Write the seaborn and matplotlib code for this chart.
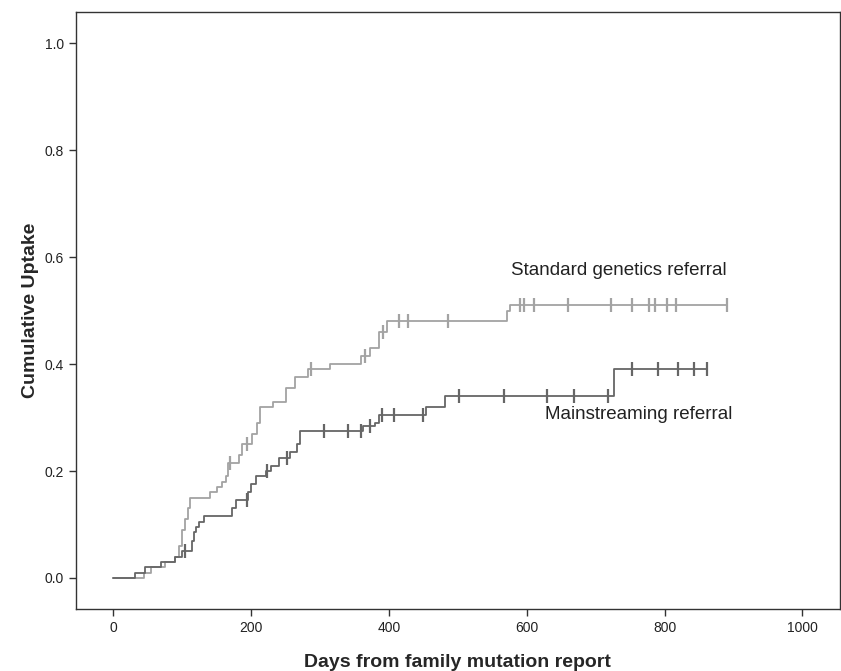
import numpy as np
import pandas as pd
import matplotlib
matplotlib.use("Agg")
import matplotlib.pyplot as plt
import seaborn as sns

# ---- data ----
std_times = [0, 45, 55, 75, 89, 95, 100, 104, 108, 112, 141, 150, 158, 163, 166,
             182, 187, 201, 208, 213, 232, 250, 264, 283, 314, 360, 372, 386, 397, 571, 576]
std_uptake = [0, 0.01, 0.02, 0.03, 0.04, 0.06, 0.09, 0.11, 0.13, 0.15, 0.16, 0.17, 0.18, 0.19, 0.215,
              0.23, 0.25, 0.27, 0.29, 0.32, 0.33, 0.355, 0.375, 0.39, 0.40, 0.415, 0.43, 0.46, 0.48, 0.50, 0.51]
std_censored = [169, 194, 287, 365, 392, 415, 427, 485, 590, 596, 610, 660, 722, 753,
                778, 786, 804, 817, 890]
std_end = 890

ms_times = [0, 32, 46, 69, 89, 100, 114, 117, 120, 124, 131, 172, 178, 196, 200, 207,
            221, 229, 240, 256, 266, 271, 363, 380, 386, 454, 481, 726]
ms_uptake = [0, 0.01, 0.02, 0.03, 0.04, 0.05, 0.07, 0.085, 0.095, 0.105, 0.115, 0.13, 0.145, 0.16, 0.175, 0.19,
             0.20, 0.21, 0.225, 0.235, 0.25, 0.275, 0.285, 0.29, 0.305, 0.32, 0.34, 0.39]
ms_censored = [104, 194, 223, 252, 306, 341, 359, 372, 390, 407, 449, 502, 567, 629,
               668, 718, 752, 791, 820, 843, 861]
ms_end = 861

groups = ["Standard genetics referral", "Mainstreaming referral"]
colors = {"Standard genetics referral": "#a3a3a3", "Mainstreaming referral": "#666666"}


def build(name, times, ups, end):
    t = list(times) + [end]
    u = list(ups) + [ups[-1]]
    return pd.DataFrame({"time": t, "uptake": u, "group": name})


def censor_df(name, times, ups, cens):
    times = np.asarray(times)
    ups = np.asarray(ups)
    idx = np.searchsorted(times, cens, side="right") - 1
    return pd.DataFrame({"time": cens, "uptake": ups[idx], "group": name})


lines = pd.concat([build(groups[0], std_times, std_uptake, std_end),
                   build(groups[1], ms_times, ms_uptake, ms_end)], ignore_index=True)
cens = pd.concat([censor_df(groups[0], std_times, std_uptake, std_censored),
                  censor_df(groups[1], ms_times, ms_uptake, ms_censored)], ignore_index=True)

sns.set_style("white")
plt.rcParams["font.family"] = ["Liberation Sans Narrow", "Liberation Sans", "DejaVu Sans"]

fig = plt.figure(figsize=(8.41, 6.71), dpi=100)
ax = fig.add_axes([0.0904, 0.0925, 0.908, 0.889])

for g in groups:
    sub = lines[lines["group"] == g]
    sns.lineplot(data=sub, x="time", y="uptake", color=colors[g], lw=1.3,
                 drawstyle="steps-post", estimator=None, sort=False, ax=ax, legend=False)
    sc = cens[cens["group"] == g]
    sns.scatterplot(data=sc, x="time", y="uptake", marker="|", s=90, linewidth=1.6,
                    color=colors[g], ax=ax, legend=False)

ax.set_xlim(-54, 1054)
ax.set_ylim(-0.058, 1.058)
ax.set_xticks([0, 200, 400, 600, 800, 1000])
ax.set_yticks([0.0, 0.2, 0.4, 0.6, 0.8, 1.0])
ax.set_yticklabels(["0.0", "0.2", "0.4", "0.6", "0.8", "1.0"])
ax.tick_params(axis="both", direction="out", length=5, width=1, color="#333333",
               labelsize=10, labelcolor="#222222", bottom=True, left=True)
for s in ax.spines.values():
    s.set_visible(True)
    s.set_color("#333333")
    s.set_linewidth(1.0)

ax.set_xlabel("Days from family mutation report", fontsize=14, fontweight="bold",
              family=["Liberation Sans", "DejaVu Sans"], labelpad=14)
ax.set_ylabel("Cumulative Uptake", fontsize=14, fontweight="bold",
              family=["Liberation Sans", "DejaVu Sans"], labelpad=4)

ax.text(577, 0.566, "Standard genetics referral", fontsize=13.5, color="#222222")
ax.text(627, 0.298, "Mainstreaming referral", fontsize=13.5, color="#222222")

fig.savefig("out.png", dpi=100)
